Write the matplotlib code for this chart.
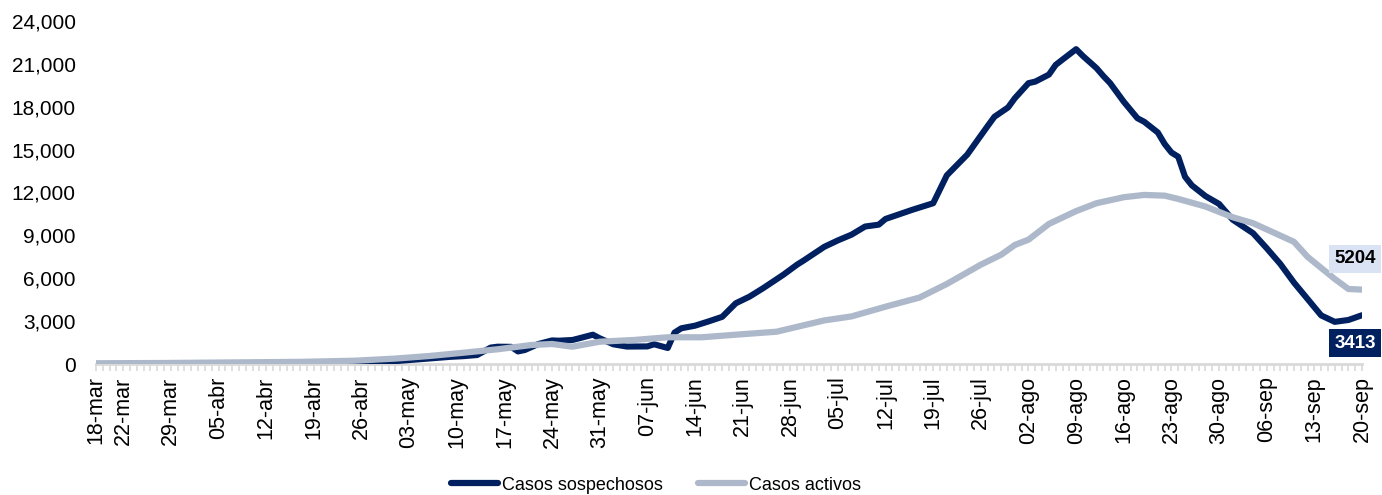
import matplotlib
matplotlib.use("Agg")
import matplotlib.pyplot as plt
import numpy as np
import pandas as pd
from matplotlib.ticker import FuncFormatter, FixedLocator, MultipleLocator

plt.rcParams['font.family'] = ['Liberation Sans', 'DejaVu Sans']

start = pd.Timestamp("2020-03-18")

# Casos sospechosos (dark line)
sosp_dates = ["2020-03-18", "2020-03-28", "2020-04-07", "2020-04-17", "2020-04-25", "2020-05-01",
              "2020-05-05", "2020-05-09", "2020-05-11", "2020-05-13", "2020-05-15", "2020-05-16",
              "2020-05-18", "2020-05-19", "2020-05-20", "2020-05-22", "2020-05-24", "2020-05-25",
              "2020-05-27", "2020-05-28", "2020-05-30", "2020-05-31", "2020-06-02", "2020-06-04",
              "2020-06-07", "2020-06-08", "2020-06-10", "2020-06-11", "2020-06-12", "2020-06-14",
              "2020-06-16", "2020-06-18", "2020-06-20", "2020-06-22", "2020-06-24", "2020-06-27",
              "2020-06-29", "2020-06-30", "2020-07-03", "2020-07-05", "2020-07-07", "2020-07-09",
              "2020-07-11", "2020-07-12", "2020-07-16", "2020-07-19", "2020-07-21", "2020-07-24",
              "2020-07-27", "2020-07-28", "2020-07-30", "2020-07-31", "2020-08-02", "2020-08-03",
              "2020-08-05", "2020-08-06", "2020-08-07", "2020-08-09", "2020-08-10", "2020-08-12",
              "2020-08-13", "2020-08-14", "2020-08-16", "2020-08-18", "2020-08-19", "2020-08-21",
              "2020-08-22", "2020-08-23", "2020-08-24", "2020-08-25", "2020-08-26", "2020-08-28",
              "2020-08-30", "2020-09-01", "2020-09-04", "2020-09-06", "2020-09-08", "2020-09-10",
              "2020-09-12", "2020-09-14", "2020-09-16", "2020-09-18", "2020-09-20"]
sosp_values = [0, 10, 20, 40, 80, 200,
               350, 500, 550, 630, 1150, 1210,
               1200, 880, 980, 1400, 1650, 1630,
               1680, 1800, 2050, 1800, 1380, 1220,
               1230, 1380, 1120, 2200, 2500, 2680,
               2980, 3300, 4250, 4710, 5300, 6250,
               6950, 7250, 8200, 8650, 9050, 9620,
               9750, 10150, 10800, 11250, 13200, 14650,
               16650, 17300, 17950, 18600, 19650, 19760,
               20250, 20930, 21300, 22030, 21550, 20700,
               20150, 19650, 18350, 17200, 16950, 16200,
               15400, 14800, 14500, 13100, 12500, 11750,
               11200, 10100, 9150, 8100, 7000, 5700,
               4550, 3400, 2950, 3080, 3413]

# Casos activos (light line)
act_dates = ["2020-03-18", "2020-03-28", "2020-04-07", "2020-04-17", "2020-04-25", "2020-05-01",
             "2020-05-06", "2020-05-11", "2020-05-16", "2020-05-21", "2020-05-24", "2020-05-27",
             "2020-05-31", "2020-06-05", "2020-06-10", "2020-06-15", "2020-06-20", "2020-06-24",
             "2020-06-26", "2020-06-29", "2020-07-03", "2020-07-07", "2020-07-12", "2020-07-17",
             "2020-07-21", "2020-07-26", "2020-07-29", "2020-07-31", "2020-08-02", "2020-08-05",
             "2020-08-09", "2020-08-12", "2020-08-16", "2020-08-19", "2020-08-22", "2020-08-24",
             "2020-08-28", "2020-09-01", "2020-09-04", "2020-09-07", "2020-09-10", "2020-09-12",
             "2020-09-16", "2020-09-18", "2020-09-20"]
act_values = [50, 70, 110, 150, 230, 380,
              560, 790, 1030, 1330, 1400, 1210,
              1560, 1680, 1870, 1870, 2050, 2190,
              2260, 2600, 3050, 3330, 4010, 4650,
              5600, 6950, 7650, 8330, 8700, 9800,
              10700, 11250, 11670, 11830, 11780, 11550,
              11020, 10270, 9850, 9200, 8550, 7500,
              5950, 5250, 5204]

tick_labels = ["18-mar", "22-mar", "29-mar", "05-abr", "12-abr", "19-abr", "26-abr", "03-may",
               "10-may", "17-may", "24-may", "31-may", "07-jun", "14-jun", "21-jun", "28-jun",
               "05-jul", "12-jul", "19-jul", "26-jul", "02-ago", "09-ago", "16-ago", "23-ago",
               "30-ago", "06-sep", "13-sep", "20-sep"]
tick_dates = ["2020-03-18", "2020-03-22", "2020-03-29", "2020-04-05", "2020-04-12", "2020-04-19",
              "2020-04-26", "2020-05-03", "2020-05-10", "2020-05-17", "2020-05-24", "2020-05-31",
              "2020-06-07", "2020-06-14", "2020-06-21", "2020-06-28", "2020-07-05", "2020-07-12",
              "2020-07-19", "2020-07-26", "2020-08-02", "2020-08-09", "2020-08-16", "2020-08-23",
              "2020-08-30", "2020-09-06", "2020-09-13", "2020-09-20"]

series_names = ["Casos sospechosos", "Casos activos"]
end_labels = ["3413", "5204"]


def to_days(dates):
    return np.array([(pd.Timestamp(d) - start).days for d in dates], dtype=float)


xs = to_days(sosp_dates)
xa = to_days(act_dates)
xt = to_days(tick_dates)

dark = "#002060"
light = "#adb9ca"

W, H = 1382, 495
fig = plt.figure(figsize=(W / 100, H / 100), dpi=100)
ax = fig.add_axes([96 / W, (H - 364) / H, (1362 - 96) / W, (364 - 21) / H])

ax.plot(xs, sosp_values, color=dark, lw=4.4, solid_capstyle='round', solid_joinstyle='round',
        label=series_names[0], zorder=3)
ax.plot(xa, act_values, color=light, lw=4.5, solid_capstyle='round', solid_joinstyle='round',
        label=series_names[1], zorder=4)

ax.set_xlim(0, xt[-1])
ax.set_ylim(0, 24000)

ax.yaxis.set_major_locator(MultipleLocator(3000))
ax.yaxis.set_major_formatter(FuncFormatter(lambda v, p: f"{int(v):,}"))
ax.tick_params(axis='y', length=0, labelsize=15, colors='#000000', pad=14.5)

ax.xaxis.set_major_locator(FixedLocator(xt))
ax.set_xticklabels(tick_labels, rotation=90, fontsize=15.5)
ax.xaxis.set_minor_locator(FixedLocator(np.arange(0, xt[-1] + 1, 1)))
ax.tick_params(axis='x', which='both', direction='out', length=5, width=1.2, color='#d9d9d9', pad=4)

for s in ['top', 'right', 'left']:
    ax.spines[s].set_visible(False)
ax.spines['bottom'].set_color('#d9d9d9')
ax.spines['bottom'].set_linewidth(2)
ax.spines['bottom'].set_zorder(1)

# End labels
ax.annotate(end_labels[0], xy=(xs[-1], sosp_values[-1]), xytext=(-7, -28),
            textcoords='offset pixels', ha='center', va='center', fontsize=13.5,
            fontweight='bold', color='white', zorder=6,
            bbox=dict(boxstyle='square,pad=0.3', fc=dark, ec='none'))
ax.annotate(end_labels[1], xy=(xa[-1], act_values[-1]), xytext=(-7, 31),
            textcoords='offset pixels', ha='center', va='center', fontsize=13.5,
            fontweight='bold', color='black', zorder=6,
            bbox=dict(boxstyle='square,pad=0.3', fc='#dae3f3', ec='none'))

leg = fig.legend(loc='center', bbox_to_anchor=(0.5 - 35 / W, 1 - 485 / H), ncol=2, frameon=False,
                 fontsize=13, handlelength=2.6, handletextpad=0.2, columnspacing=2.0)
for l in leg.get_lines():
    l.set_linewidth(4.5)

fig.savefig("out.png", dpi=100)
